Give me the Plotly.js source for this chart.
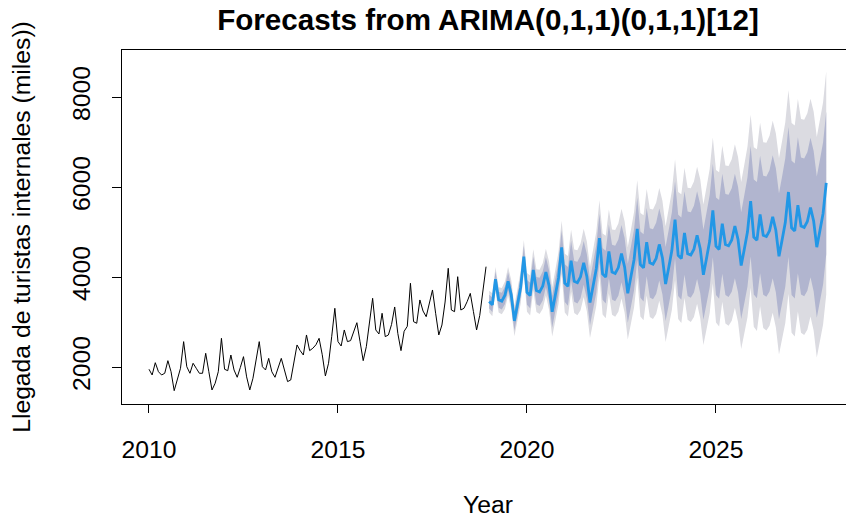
<!DOCTYPE html>
<html>
<head>
<meta charset="utf-8">
<script src="https://cdn.plot.ly/plotly-3.0.1.min.js"></script>
<style>
html, body { margin:0; padding:0; overflow:hidden; background:#fff; }
#chart { width:854px; height:519px; }
</style>
</head>
<body>
<div id="chart"></div>
<script>
// ---- Data (monthly) ----
var histStart = 2010;      // first month of the observed series (Jan 2010)
var fcStart = 2019;        // first forecast month (Jan 2019)
var freq = 12;

// Observed arrivals (miles), Jan 2010 .. Dec 2018
var observed = [
  1956, 1829, 2102, 1902, 1829, 1867, 2147, 1902, 1480, 1756, 1978, 2570,
  2013, 1867, 2089, 1978, 1867, 1867, 2311, 1902, 1496, 1644, 1902, 2644,
  1956, 1924, 2273, 1940, 1778, 1996, 2236, 1787, 1496, 1755, 2124, 2570,
  2013, 1940, 2198, 1900, 1778, 1978, 2198, 1940, 1682, 1718, 2124, 2496,
  2370, 2273, 2718, 2370, 2422, 2500, 2644, 2280, 1807, 2089, 2680, 3311,
  2570, 2473, 2829, 2570, 2593, 2800, 2991, 2570, 2147, 2458, 2960, 3533,
  2829, 2740, 3200, 2681, 2718, 2950, 3340, 2750, 2370, 2800, 2910, 3867,
  3013, 2978, 3496, 3250, 3124, 3400, 3718, 3200, 2718, 2940, 3450, 4200,
  3273, 3236, 4013, 3273, 3311, 3458, 3642, 3236, 2829, 3150, 3650, 4236
];

// Point forecast, Jan 2019 .. Dec 2027
var forecastMean = [
  3460, 3390, 3960, 3500, 3470, 3600, 3910, 3610, 3030, 3400, 3780, 4460,
  3665, 3595, 4165, 3705, 3675, 3805, 4115, 3815, 3235, 3605, 3985, 4665,
  3870, 3800, 4370, 3910, 3880, 4010, 4320, 4020, 3440, 3810, 4190, 4870,
  4075, 4005, 4575, 4115, 4085, 4215, 4525, 4225, 3645, 4015, 4395, 5075,
  4280, 4210, 4780, 4320, 4290, 4420, 4730, 4430, 3850, 4220, 4600, 5280,
  4485, 4415, 4985, 4525, 4495, 4625, 4935, 4635, 4055, 4425, 4805, 5485,
  4690, 4620, 5190, 4730, 4700, 4830, 5140, 4840, 4260, 4630, 5010, 5690,
  4895, 4825, 5395, 4935, 4905, 5035, 5345, 5045, 4465, 4835, 5215, 5895,
  5100, 5030, 5600, 5140, 5110, 5240, 5550, 5250, 4670, 5040, 5420, 6100
];

// Half-width of the 80% interval
var half80 = [
   154,  163,  172,  179,  187,  195,  202,  209,  216,  223,  230,  237,
   275,  285,  294,  304,  314,  323,  333,  342,  352,  360,  369,  378,
   419,  430,  441,  452,  463,  474,  484,  495,  506,  517,  527,  538,
   576,  586,  596,  607,  617,  627,  637,  648,  658,  668,  680,  691,
   736,  747,  758,  769,  780,  790,  801,  812,  823,  834,  845,  858,
   902,  915,  927,  939,  951,  963,  975,  988, 1000, 1012, 1024, 1037,
  1085, 1098, 1110, 1123, 1136, 1149, 1162, 1174, 1187, 1200, 1215, 1229,
  1277, 1292, 1306, 1321, 1336, 1350, 1365, 1380, 1395, 1409, 1428, 1446,
  1491, 1501, 1510, 1520, 1530, 1539, 1549, 1558, 1568, 1574, 1581, 1587
];

// Half-width of the 95% interval
var half95 = [
   240,  255,  268,  280,  292,  304,  316,  327,  338,  349,  360,  370,
   430,  445,  460,  475,  490,  505,  520,  535,  550,  563,  577,  590,
   655,  672,  689,  706,  723,  740,  757,  774,  791,  808,  824,  840,
   900,  916,  932,  948,  964,  980,  996, 1012, 1028, 1044, 1062, 1080,
  1150, 1167, 1184, 1201, 1218, 1235, 1252, 1269, 1286, 1303, 1321, 1340,
  1410, 1429, 1448, 1467, 1486, 1505, 1524, 1543, 1562, 1581, 1600, 1620,
  1695, 1715, 1735, 1755, 1775, 1795, 1815, 1835, 1855, 1875, 1898, 1920,
  1995, 2018, 2041, 2064, 2087, 2110, 2133, 2156, 2179, 2202, 2231, 2260,
  2330, 2345, 2360, 2375, 2390, 2405, 2420, 2435, 2450, 2460, 2470, 2480
];

var xTicks = [2010, 2015, 2020, 2025];
var yTicks = [2000, 4000, 6000, 8000];

// ---- Build traces ----
function timeAxis(start, n) {
  var t = [];
  for (var i = 0; i < n; i++) t.push(start + i / freq);
  return t;
}
var xHist = timeAxis(histStart, observed.length);
var xFc = timeAxis(fcStart, forecastMean.length);

function band(half) {
  var up = [], lo = [];
  for (var i = 0; i < forecastMean.length; i++) {
    up.push(forecastMean[i] + half[i]);
    lo.push(forecastMean[i] - half[i]);
  }
  return {
    x: xFc.concat(xFc.slice().reverse()),
    y: up.concat(lo.reverse())
  };
}
var b95 = band(half95), b80 = band(half80);

var traces = [
  { x: b95.x, y: b95.y, type: 'scatter', mode: 'lines', fill: 'toself',
    fillcolor: '#DBDBE1', line: { width: 0, color: 'rgba(0,0,0,0)' }, hoverinfo: 'skip', name: '95%' },
  { x: b80.x, y: b80.y, type: 'scatter', mode: 'lines', fill: 'toself',
    fillcolor: '#B1B5CF', line: { width: 0, color: 'rgba(0,0,0,0)' }, hoverinfo: 'skip', name: '80%' },
  { x: xHist, y: observed, type: 'scatter', mode: 'lines',
    line: { color: '#000000', width: 1 }, name: 'Observado' },
  { x: xFc, y: forecastMean, type: 'scatter', mode: 'lines',
    line: { color: '#2297E6', width: 2.8 }, name: 'Pronóstico' }
];

var FONT = 'Liberation Sans, Arial, Helvetica, sans-serif';
var FS = 24.7;
var layout = {
  width: 854, height: 519,
  margin: { l: 122, r: 0, t: 50, b: 115, pad: 0 },
  paper_bgcolor: '#ffffff', plot_bgcolor: '#ffffff',
  showlegend: false,
  font: { family: FONT, color: '#000', size: FS },
  title: {
    text: '<b>Forecasts from ARIMA(0,1,1)(0,1,1)[12]</b>',
    font: { family: FONT, size: 29.6, color: '#000' },
    x: 0.5, xref: 'paper', xanchor: 'center',
    y: 0.962, yref: 'container', yanchor: 'middle'
  },
  xaxis: {
    range: [2009.286, 2028.651],
    tickvals: xTicks, ticktext: xTicks.map(String),
    ticks: 'outside', ticklen: 8, tickwidth: 1, tickcolor: '#000',
    showline: true, linecolor: '#000', linewidth: 1, mirror: true,
    showgrid: false, zeroline: false,
    tickfont: { family: FONT, size: FS, color: '#000' },
    ticklabelstandoff: 15,
    title: { text: 'Year', font: { family: FONT, size: FS, color: '#000' }, standoff: 34 }
  },
  yaxis: {
    range: [1184, 9051],
    tickvals: yTicks, ticktext: yTicks.map(String),
    tickangle: -90,
    ticks: 'outside', ticklen: 9, tickwidth: 1, tickcolor: '#000',
    showline: true, linecolor: '#000', linewidth: 1, mirror: true,
    showgrid: false, zeroline: false,
    tickfont: { family: FONT, size: FS, color: '#000' },
    ticklabelstandoff: 12,
    title: { text: 'Llegada de turistas internales (miles))', font: { family: FONT, size: FS, color: '#000' }, standoff: 30 }
  }
};

Plotly.newPlot('chart', traces, layout, { displayModeBar: false, staticPlot: true });
</script>
</body>
</html>
